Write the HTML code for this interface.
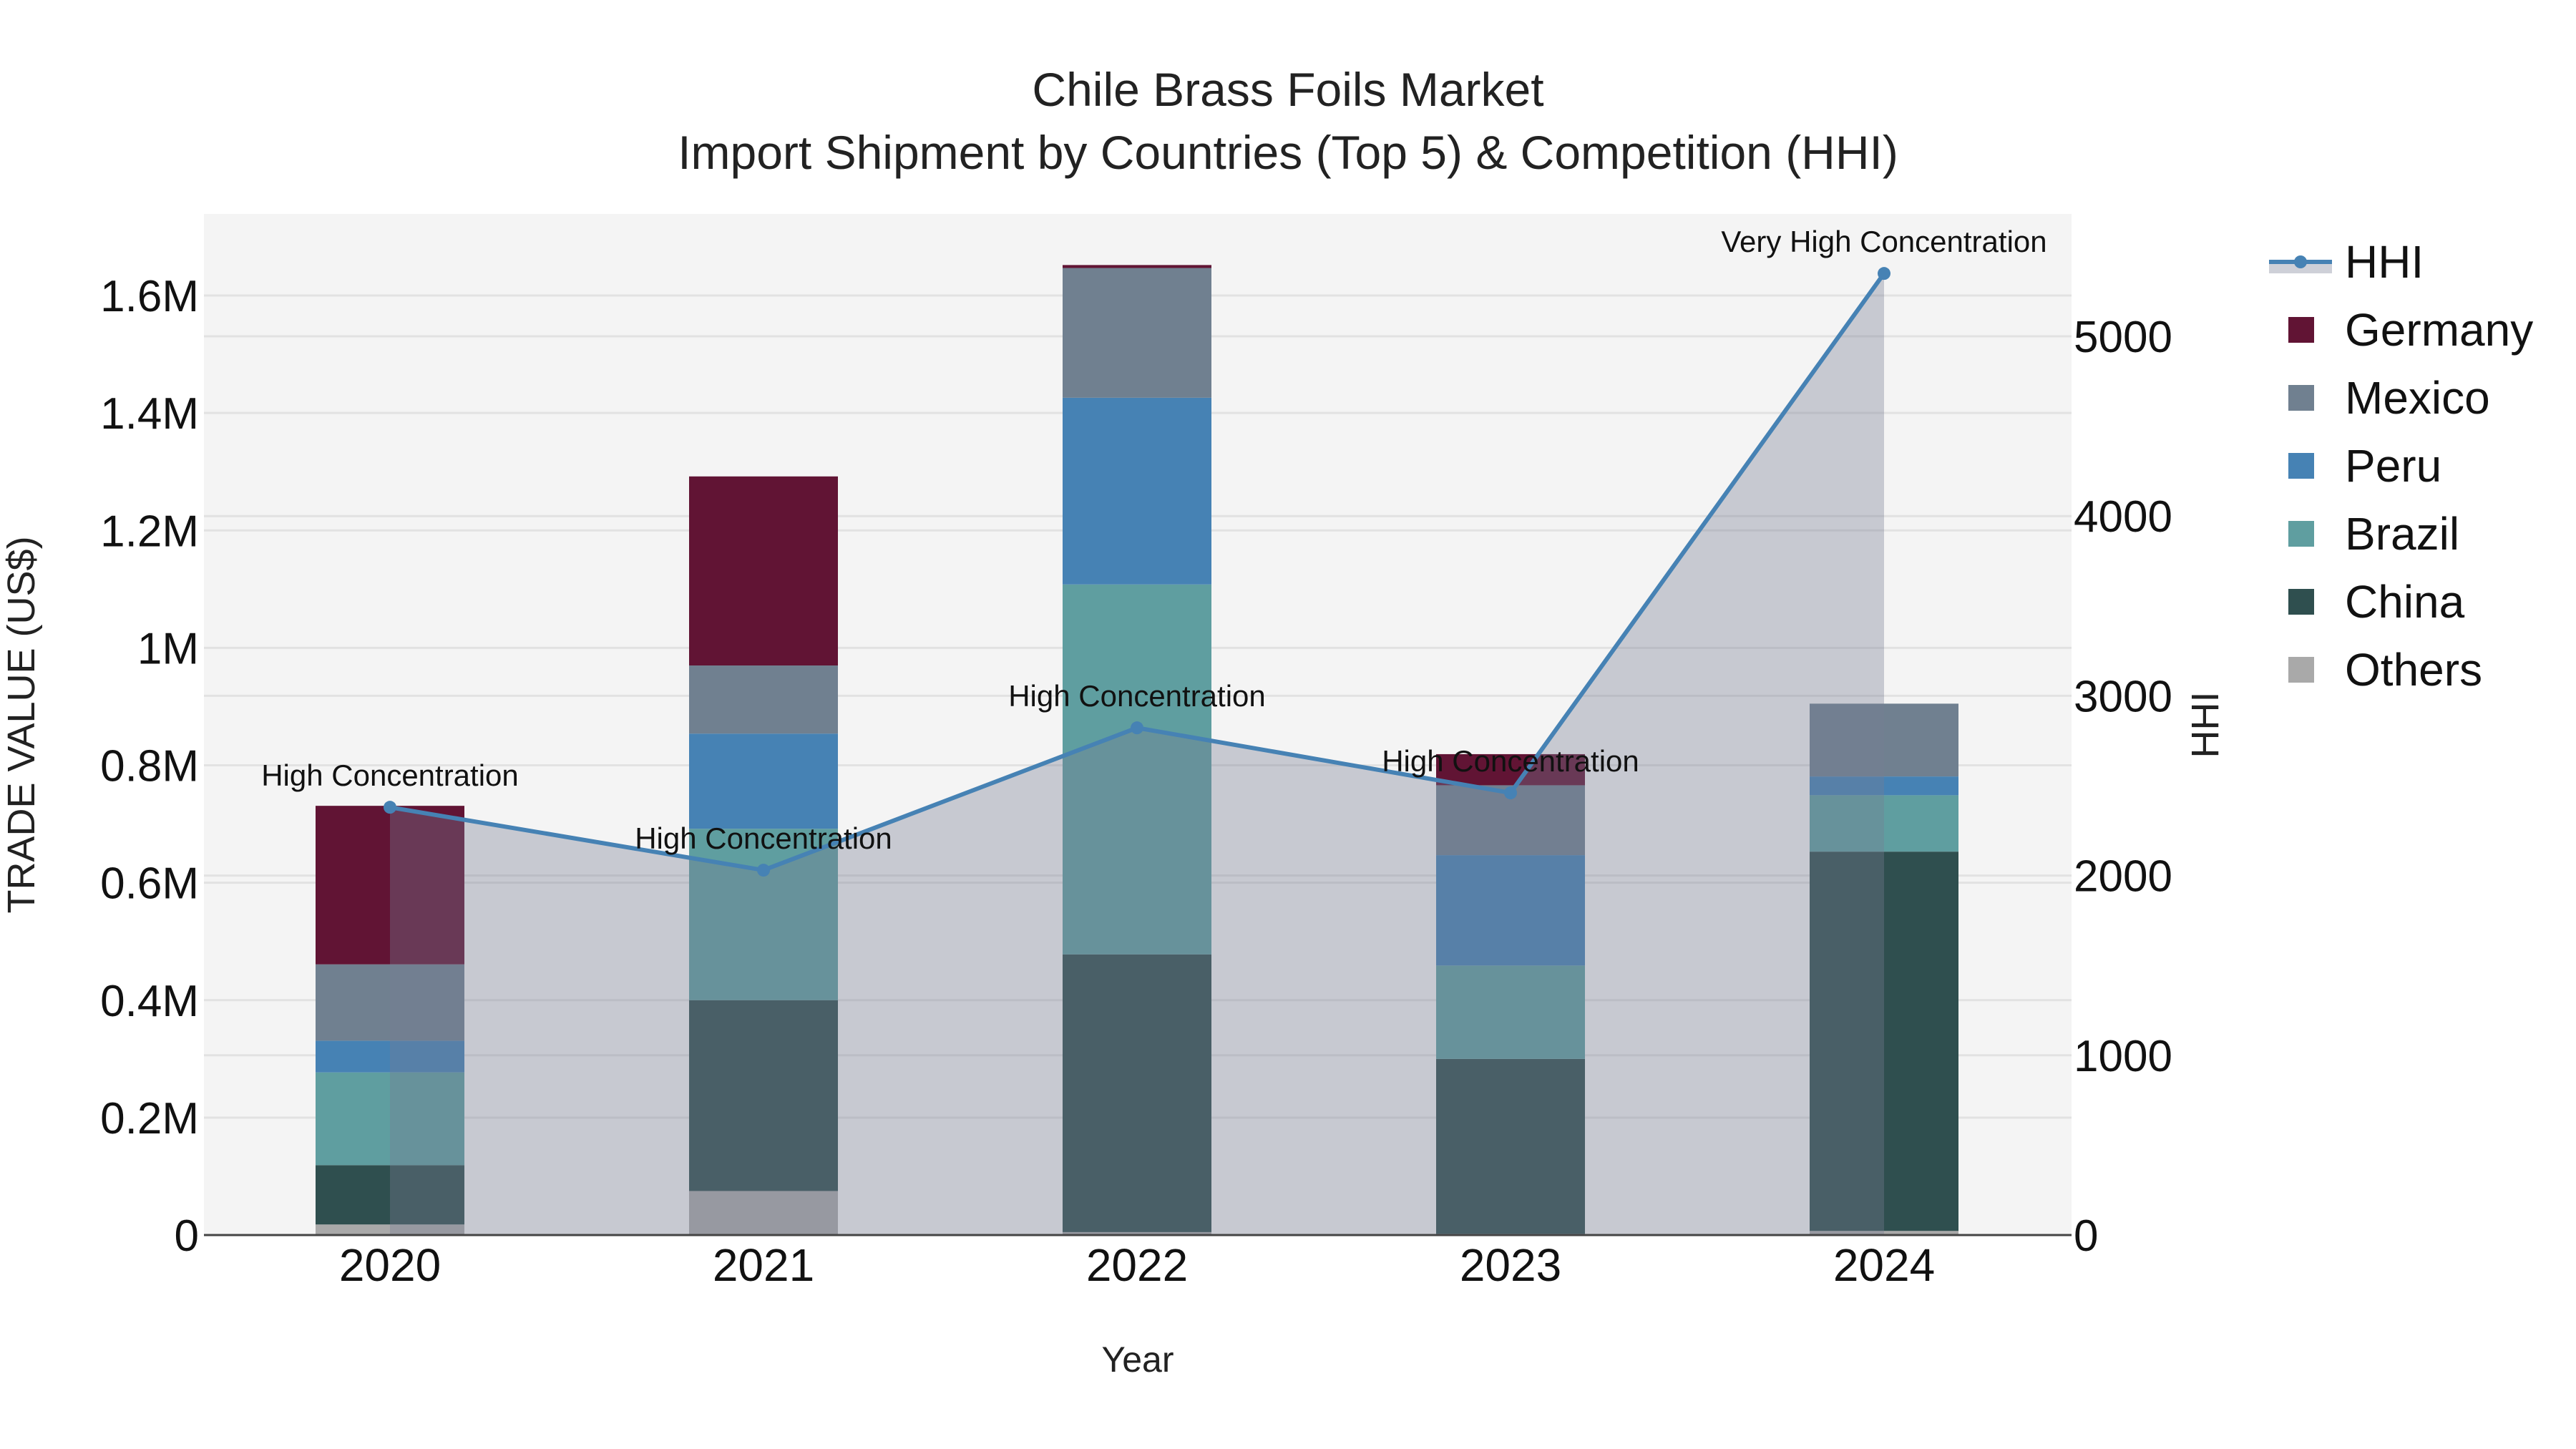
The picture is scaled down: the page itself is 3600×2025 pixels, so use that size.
<!DOCTYPE html>
<html><head><meta charset="utf-8"><style>
html,body{margin:0;padding:0;background:#fff;}
svg{display:block;font-family:"Liberation Sans",Arial,sans-serif;}
</style></head><body>
<svg id="chart" width="3600" height="2025" viewBox="0 0 3600 2025" xmlns="http://www.w3.org/2000/svg">
<rect width="3600" height="2025" fill="#fff"/>
<text x="1800" y="148" text-anchor="middle" font-size="66" fill="#222">Chile Brass Foils Market</text>
<text x="1800" y="236" text-anchor="middle" font-size="66" fill="#222">Import Shipment by Countries (Top 5) &amp; Competition (HHI)</text>
<rect x="285" y="299" width="2610" height="1427" fill="#f4f4f4"/>
<g id="grid"></g>
<g id="bars"></g>
<g id="hhi"></g>
<g id="axes"></g>
<text x="1590" y="1917" text-anchor="middle" font-size="50" fill="#222">Year</text>
<text transform="translate(48,1013) rotate(-90)" text-anchor="middle" font-size="54" fill="#222">TRADE VALUE (US$)</text>
<text transform="translate(3100,1013) rotate(-90)" text-anchor="middle" font-size="54" fill="#222">HHI</text>
<g id="legend"></g>
</svg>
<script>
const years = ["2020","2021","2022","2023","2024"];
const seriesNames = ["Others","China","Brazil","Peru","Mexico","Germany"];
const others  = [0.018, 0.075, 0.005, 0.002, 0.007];
const china   = [0.101, 0.325, 0.473, 0.298, 0.646];
const brazil  = [0.158, 0.292, 0.630, 0.159, 0.096];
const peru    = [0.054, 0.162, 0.318, 0.188, 0.032];
const mexico  = [0.130, 0.116, 0.221, 0.119, 0.124];
const germany = [0.270, 0.322, 0.005, 0.053, 0.000];
const hhi = [2380, 2030, 2822, 2460, 5350];
const hhiLabels = ["High Concentration","High Concentration","High Concentration","High Concentration","Very High Concentration"];
const yTicks = [0, 0.2, 0.4, 0.6, 0.8, 1.0, 1.2, 1.4, 1.6];
const yTickLabels = ["0","0.2M","0.4M","0.6M","0.8M","1M","1.2M","1.4M","1.6M"];
const y2Ticks = [0, 1000, 2000, 3000, 4000, 5000];

const colors = {Others:"#a9a9a9",China:"#2f4f4f",Brazil:"#5f9ea0",Peru:"#4682b4",Mexico:"#708090",Germany:"#611434"};
const values = {Others:others,China:china,Brazil:brazil,Peru:peru,Mexico:mexico,Germany:germany};
const NS="http://www.w3.org/2000/svg";
const L=285,R=2895,T=299,B=1726;
const x=i=>545+i*522;
const y=v=>B-v*(B-T)/1.739;
const y2=v=>B-v*(B-T)/5681;
function mk(tag,attrs,parent){const e=document.createElementNS(NS,tag);for(const k in attrs)e.setAttribute(k,attrs[k]);parent.appendChild(e);return e;}
const grid=document.getElementById('grid'),bars=document.getElementById('bars'),hg=document.getElementById('hhi'),axes=document.getElementById('axes'),leg=document.getElementById('legend');
yTicks.forEach((t,i)=>{
  const l=mk('line',{x1:L,x2:R,y1:y(t),y2:y(t),stroke:"#e2e2e2","stroke-width":3},grid);
  
  
  const tx=mk('text',{x:278,y:y(t)+22,"text-anchor":"end","font-size":62,fill:"#111"},axes);
  tx.textContent=yTickLabels[i];
  
  
});
y2Ticks.forEach(t=>{
  const l=mk('line',{x1:L,x2:R,y1:y2(t),y2:y2(t),stroke:"#e2e2e2","stroke-width":3},grid);
  
  
  const tx=mk('text',{x:2898,y:y2(t)+22,"text-anchor":"start","font-size":62,fill:"#111"},axes);
  tx.textContent=String(t);
  
  
});
years.forEach((yr,i)=>{
  let acc=0;
  seriesNames.forEach(s=>{
    const v=values[s][i]; if(v<=0)return;
    const r=mk('rect',{x:x(i)-104,y:y(acc+v),width:208,height:y(acc)-y(acc+v),fill:colors[s]},bars);
    
    
    acc+=v;
  });
  const tx=mk('text',{x:x(i),y:1790,"text-anchor":"middle","font-size":64,fill:"#111"},axes);
  tx.textContent=yr;
  
  
});
let pts=hhi.map((v,i)=>x(i)+','+y2(v)).join(' ');
const area=mk('polygon',{points:x(0)+','+B+' '+pts+' '+x(hhi.length-1)+','+B,fill:"rgba(119,125,147,0.36)"},hg);


const line=mk('polyline',{points:pts,fill:"none",stroke:"#4682b4","stroke-width":6},hg);


hhi.forEach((v,i)=>{
  const c=mk('circle',{cx:x(i),cy:y2(v),r:9,fill:"#4682b4"},hg);
  
  
  const t=mk('text',{x:x(i),y:y2(v)-30,"text-anchor":"middle","font-size":42,fill:"#111"},hg);
  t.textContent=hhiLabels[i];
  
  
});
const axl=mk('line',{x1:L,x2:R,y1:B,y2:B,stroke:"#444","stroke-width":3},axes);


const hb=mk('rect',{x:3171,y:366,width:88,height:16,fill:"rgba(119,125,147,0.36)"},leg);


const hl=mk('line',{x1:3171,x2:3259,y1:366,y2:366,stroke:"#4682b4","stroke-width":6},leg);


const hc=mk('circle',{cx:3215,cy:366,r:9,fill:"#4682b4"},leg);


const ht=mk('text',{x:3277,y:388,"font-size":64,fill:"#111"},leg);
ht.textContent="HHI";


["Germany","Mexico","Peru","Brazil","China","Others"].forEach((s,k)=>{
  const cy=461+k*95;
  const r=mk('rect',{x:3198,y:cy-18,width:36,height:36,fill:colors[s]},leg);
  
  
  const t=mk('text',{x:3277,y:cy+22,"font-size":64,fill:"#111"},leg);
  t.textContent=s;
  
  
});
</script>
</body></html>
